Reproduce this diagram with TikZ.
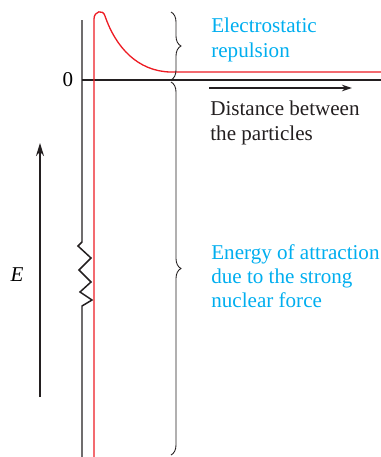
\documentclass[tikz,border=0pt]{standalone}
\usepackage{fontspec}
\setmainfont{Liberation Serif}
\usetikzlibrary{arrows.meta,decorations.pathreplacing}
\definecolor{RepCyan}{RGB}{0,174,239}
\definecolor{CurveRed}{RGB}{237,28,36}
\definecolor{AxisBlack}{RGB}{35,31,32}

\begin{document}
\begin{tikzpicture}[
  x=0.02cm,y=-0.02cm,
  axisline/.style={draw=AxisBlack,line width=0.85pt},
  curveline/.style={draw=CurveRed,line width=0.75pt},
  note/.style={font=\fontsize{12}{13.7}\selectfont,align=left,anchor=north west,inner sep=0pt},
  spanbrace/.style={decorate,decoration={brace,amplitude=0.2cm},draw=AxisBlack,line width=0.5pt},
]
\useasboundingbox (0,0) rectangle (381,457);
% axes
\coordinate (ytop) at (82,20);
\coordinate (ybot) at (82,457);
\coordinate (origin) at (82,80);
\coordinate (xend) at (381,80);
\draw[axisline] (ytop) -- (82,242) -- (78,246) -- (91,258) -- (79,270) -- (91,282)
  -- (80,292) -- (92,300) -- (82,306) -- (ybot);
\draw[axisline] (origin) -- (xend);
\node[font=\fontsize{12}{13.7}\selectfont,inner sep=0pt] (zero) at (68,80) {0};
% potential energy curve
\coordinate (rbot) at (94,457);
\coordinate (rend) at (381,72);
\draw[curveline] (rbot) -- (94,19) .. controls (94,11) and (103,9) .. (105,16)
  .. controls (116,48) and (138,71) .. (170,72) -- (rend);
% braces
\coordinate (btop) at (171,12);
\coordinate (bmid) at (171,80);
\coordinate (bbot) at (171,455);
\draw[spanbrace] (btop) -- (bmid);
\draw[spanbrace] ([yshift=-0.04cm]bmid) -- (bbot);
% labels
\node[note,text=RepCyan] (repel) at (211,18) {Electrostatic\\repulsion};
\coordinate (dstart) at (209,88);
\coordinate (dend) at (352,88);
\draw[draw=AxisBlack,line width=0.75pt,-{Stealth[length=0.2cm,width=0.13cm]}] (dstart) -- (dend);
\node[note,text=AxisBlack] (dist) at (210,101) {Distance between\\the particles};
\node[note,text=RepCyan] (attract) at (211,244) {Energy of attraction\\due to the strong\\nuclear force};
% energy axis
\coordinate (estart) at (40,397);
\coordinate (eend) at (40,143);
\draw[draw=AxisBlack,line width=1pt,-{Stealth[length=0.26cm,width=0.16cm]}] (estart) -- (eend);
\node[font=\fontsize{12}{13.7}\selectfont\itshape,inner sep=0pt] (elab) at (17,275) {E};
\end{tikzpicture}
\end{document}
